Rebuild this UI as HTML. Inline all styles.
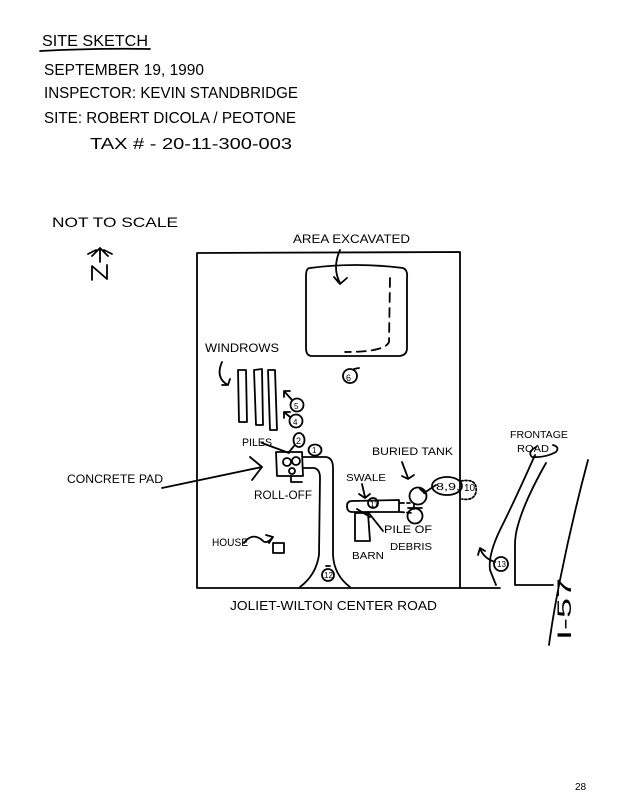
<!DOCTYPE html>
<html><head><meta charset="utf-8"><style>
html,body{margin:0;padding:0;background:#fff;}
svg{display:block;}
text{font-family:"Liberation Sans",sans-serif;fill:#000;}
</style></head><body>
<svg width="619" height="800" viewBox="0 0 619 800" xmlns="http://www.w3.org/2000/svg">
<rect width="619" height="800" fill="#fff"/>
<g fill="none" stroke="#000" stroke-width="1.8" stroke-linecap="round" stroke-linejoin="round">
<!-- header underline -->
<path d="M40 51 Q95 48 150 49"/>
<!-- north arrow -->
<path d="M100 262 L100 248 M92 256 L100 248 L108 256 M88 254 L96 250 M104 250 L112 254"/>
<path d="M92 280 L92 266 L107 279 L107 265"/>
<!-- main rectangle -->
<path d="M197 253 L460 252 L460 588 M197 253 L197 588 L500 588"/>
<!-- excavated area -->
<path d="M340 250 Q332 268 340 283 M334 277 L340 284 L347 278"/>
<path d="M310 268 Q355 262 403 268 Q408 270 407 278 L407 348 Q407 356 398 356 L312 356 Q306 356 306 348 L306 276 Q306 268 310 268 Z"/>
<path d="M390 278 L389 342 Q385 352 345 352" stroke-dasharray="9 6"/>
<circle cx="350" cy="376" r="7"/>
<path d="M354 369 L359 368"/>
<!-- windrows label arrow -->
<path d="M222 362 Q215 378 228 385 M222 385 L228 385 L230 379"/>
<!-- windrows -->
<path d="M238 370 L246 370 L247 422 L239 422 Z"/>
<path d="M254 370 L262 369 L263 425 L256 425 Z"/>
<path d="M268 370 L275 370 L277 430 L270 430 Z"/>
<!-- circles 5,4 with arrows -->
<circle cx="297" cy="405" r="6.5"/>
<path d="M292 400 L284 391 M284 397 L284 391 L290 391"/>
<circle cx="296" cy="421" r="6.5"/>
<path d="M290 417 L284 412 M284 418 L284 412 L290 412"/>
<!-- circle 2 and 1 -->
<ellipse cx="299" cy="440" rx="5.5" ry="7"/>
<path d="M294 446 L289 452"/>
<ellipse cx="315" cy="450" rx="6.5" ry="5.5"/>
<!-- piles arrow -->
<path d="M262 443 L289 453"/>
<!-- concrete pad arrow -->
<path d="M162 488 L262 467 M250 457 L262 467 L252 480"/>
<!-- pad -->
<path d="M276 452 L302 452 L303 476 L277 476 Z"/>
<circle cx="287" cy="462" r="4"/>
<circle cx="296" cy="461" r="4"/>
<circle cx="292" cy="471" r="3"/>
<path d="M291 476 L291 482 L302 482"/>
<!-- driveway -->
<path d="M303 457 L326 457 Q333 458 333 468 L333 555 Q334 575 350 587"/>
<path d="M304 468 L314 468 Q320 469 320 478 L319 555 Q316 575 300 587"/>
<circle cx="328" cy="575" r="6"/>
<path d="M326 566 L330 566"/>
<!-- house -->
<path d="M244 543 Q252 532 262 540 Q266 545 272 538 M266 535 L273 537 L269 543"/>
<path d="M273 543 L284 543 L284 553 L273 553 Z"/>
<!-- buried tank arrow -->
<path d="M402 462 L408 478 M402 476 L408 479 L414 475"/>
<!-- swale arrow -->
<path d="M362 484 L365 497 M359 494 L365 498 L370 494"/>
<!-- swale pipe -->
<path d="M352 501 L399 500 L399 512 L352 512 Q347 512 347 506 Q347 501 352 501 Z"/>
<circle cx="373" cy="503" r="5"/>
<path d="M400 503 L410 503 M400 512 L413 513" stroke-dasharray="4 3"/>
<!-- barn -->
<path d="M355 513 L368 513 L370 541 L355 541 Z"/>
<path d="M357 509 L370 517 M368 512 L383 531"/>
<!-- tank -->
<circle cx="418" cy="496" r="8.5"/>
<path d="M420 489 L426 494"/>
<circle cx="415" cy="516" r="7.5"/>
<path d="M414 504 L414 509 M408 508 L422 508"/>
<path d="M424 493 L436 485"/>
<ellipse cx="447" cy="486" rx="15" ry="9"/>
<path d="M461 481 Q478 478 476 492 Q474 501 462 499" stroke-dasharray="2 2"/>
<!-- frontage road -->
<path d="M535 455 Q515 500 500 530 Q488 555 490 570 L496 585"/>
<path d="M546 463 Q525 500 518 525 Q515 535 515 545 L515 585 L553 585"/>
<path d="M536 447 Q527 452 532 457 Q545 458 556 452 Q560 447 553 445"/>
<circle cx="501" cy="564" r="7"/>
<path d="M495 562 Q483 558 480 548 M478 555 L480 548 L485 551"/>
<!-- I-57 line -->
<path d="M588 460 Q572 520 560 580 Q553 615 549 645"/>
</g>
<g>
<text x="42" y="46" font-size="16" textLength="106" lengthAdjust="spacingAndGlyphs">SITE SKETCH</text>
<text x="44" y="75" font-size="16" textLength="160" lengthAdjust="spacingAndGlyphs">SEPTEMBER 19, 1990</text>
<text x="44" y="98" font-size="16" textLength="254" lengthAdjust="spacingAndGlyphs">INSPECTOR: KEVIN STANDBRIDGE</text>
<text x="44" y="123" font-size="16" textLength="252" lengthAdjust="spacingAndGlyphs">SITE: ROBERT DICOLA / PEOTONE</text>
<text x="90" y="149" font-size="16" textLength="202" lengthAdjust="spacingAndGlyphs">TAX # - 20-11-300-003</text>
<text x="52" y="227" font-size="14" textLength="126" lengthAdjust="spacingAndGlyphs">NOT TO SCALE</text>
<text x="293" y="243" font-size="12" textLength="117" lengthAdjust="spacingAndGlyphs">AREA EXCAVATED</text>
<text x="205" y="352" font-size="12" textLength="74" lengthAdjust="spacingAndGlyphs">WINDROWS</text>
<text x="346" y="381" font-size="9">6</text>
<text x="294" y="409" font-size="8">5</text>
<text x="293" y="425" font-size="8">4</text>
<text x="296" y="444" font-size="9">2</text>
<text x="312" y="453" font-size="8">1</text>
<text x="242" y="446" font-size="11" textLength="30" lengthAdjust="spacingAndGlyphs">PILES</text>
<text x="67" y="483" font-size="12" textLength="96" lengthAdjust="spacingAndGlyphs">CONCRETE PAD</text>
<text x="254" y="499" font-size="12" textLength="58" lengthAdjust="spacingAndGlyphs">ROLL-OFF</text>
<text x="212" y="546" font-size="11" textLength="36" lengthAdjust="spacingAndGlyphs">HOUSE</text>
<text x="372" y="455" font-size="11" textLength="81" lengthAdjust="spacingAndGlyphs">BURIED TANK</text>
<text x="346" y="481" font-size="10" textLength="40" lengthAdjust="spacingAndGlyphs">SWALE</text>
<text x="370" y="507" font-size="8">11</text>
<text x="436" y="490" font-size="10" textLength="24" lengthAdjust="spacingAndGlyphs">8,9,</text>
<text x="464" y="491" font-size="10">10</text>
<text x="384" y="533" font-size="11" textLength="48" lengthAdjust="spacingAndGlyphs">PILE OF</text>
<text x="390" y="550" font-size="10" textLength="42" lengthAdjust="spacingAndGlyphs">DEBRIS</text>
<text x="352" y="559" font-size="10" textLength="32" lengthAdjust="spacingAndGlyphs">BARN</text>
<text x="324" y="578" font-size="8">12</text>
<text x="497" y="567" font-size="8">13</text>
<text x="230" y="610" font-size="13" textLength="207" lengthAdjust="spacingAndGlyphs">JOLIET-WILTON CENTER ROAD</text>
<text x="510" y="438" font-size="10" textLength="58" lengthAdjust="spacingAndGlyphs">FRONTAGE</text>
<text x="517" y="452" font-size="10" textLength="32" lengthAdjust="spacingAndGlyphs">ROAD</text>
<text transform="translate(571,640) rotate(-90)" font-size="19" textLength="62" lengthAdjust="spacingAndGlyphs">I-57</text>
<text x="575" y="790" font-size="10">28</text>
</g>
</svg>
</body></html>
